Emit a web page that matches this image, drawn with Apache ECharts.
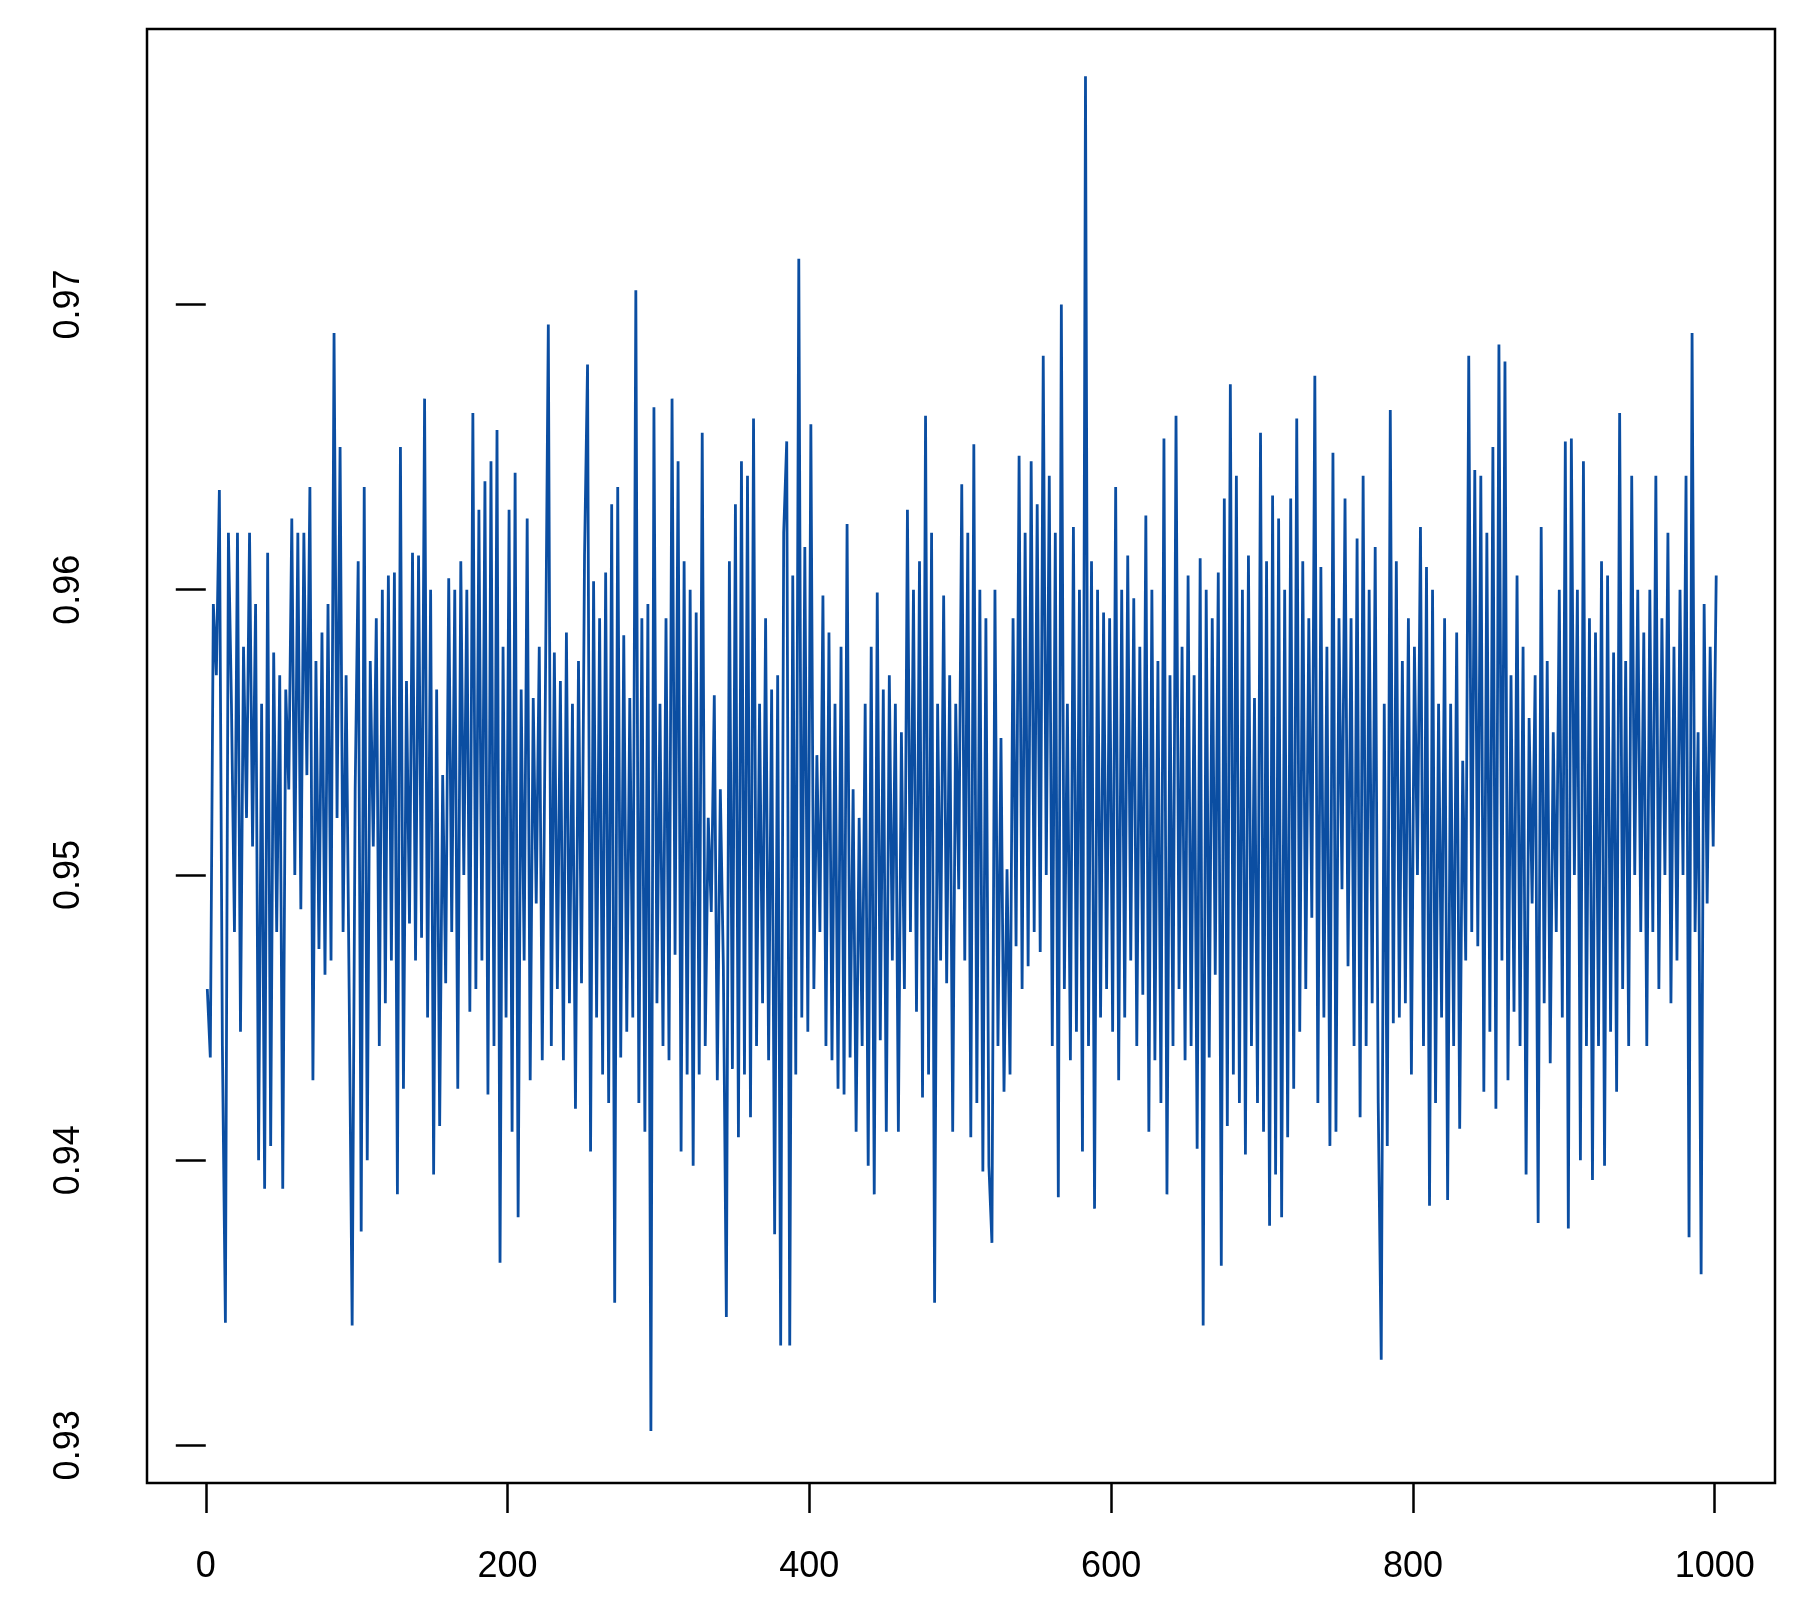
<!DOCTYPE html>
<html><head><meta charset="utf-8">
<script src="https://cdn.jsdelivr.net/npm/echarts@6/dist/echarts.min.js"></script>
<style>html,body{margin:0;padding:0;background:#fff}#c{width:1794px;height:1610px}</style>
</head><body><div id="c"></div>
<script>
const xTicks=[0,200,400,600,800,1000];
const yTicks=[0.93,0.94,0.95,0.96,0.97];
// values at x = 1,3,5,...,999
const values=[
0.946,0.9436,0.9595,0.9570,0.9635,0.9440,0.9343,0.9620,0.9560,0.9480,0.9620,0.9445,0.9580,0.9520,0.9620,0.9510,0.9595,0.9400,0.9560,0.9390,0.9613,0.9405,0.9578,0.9480,0.9570,
0.9390,0.9565,0.9530,0.9625,0.9500,0.9620,0.9488,0.9620,0.9535,0.9636,0.9428,0.9575,0.9474,0.9585,0.9465,0.9595,0.9470,0.9690,0.9520,0.9650,0.9480,0.9570,0.9460,0.9342,0.9530,0.9610,
0.9375,0.9636,0.9400,0.9575,0.9510,0.9590,0.9440,0.9600,0.9455,0.9605,0.9470,0.9606,0.9388,0.9650,0.9425,0.9568,0.9483,0.9613,0.9470,0.9612,0.9478,0.9667,0.9450,0.9600,0.9395,
0.9565,0.9412,0.9535,0.9462,0.9604,0.9480,0.9600,0.9425,0.9610,0.9500,0.9600,0.9452,0.9662,0.9460,0.9628,0.9470,0.9638,0.9423,0.9645,0.9440,0.9656,0.9364,0.9580,0.9450,0.9628,
0.9410,0.9641,0.9380,0.9565,0.9470,0.9625,0.9428,0.9562,0.9490,0.9580,0.9435,0.9560,0.9693,0.9440,0.9578,0.9460,0.9568,0.9435,0.9585,0.9455,0.9560,0.9418,0.9575,0.9462,0.9612,
0.9679,0.9403,0.9603,0.9450,0.9590,0.9430,0.9606,0.9420,0.9630,0.9350,0.9636,0.9436,0.9584,0.9445,0.9562,0.9450,0.9705,0.9420,0.9590,0.9410,0.9595,0.9305,0.9664,0.9455,0.9560,
0.9440,0.9590,0.9435,0.9667,0.9472,0.9645,0.9403,0.9610,0.9430,0.9600,0.9398,0.9592,0.9430,0.9655,0.9440,0.9520,0.9487,0.9563,0.9428,0.9530,0.9468,0.9345,0.9610,0.9432,0.9630,
0.9408,0.9645,0.9430,0.9640,0.9415,0.9660,0.9440,0.9560,0.9455,0.9590,0.9435,0.9565,0.9374,0.9570,0.9335,0.9620,0.9652,0.9335,0.9605,0.9430,0.9716,0.9450,0.9615,0.9445,0.9658,
0.9460,0.9542,0.9480,0.9598,0.9440,0.9585,0.9435,0.9560,0.9425,0.9580,0.9423,0.9623,0.9436,0.9530,0.9410,0.9520,0.9440,0.9560,0.9398,0.9580,0.9388,0.9599,0.9442,0.9565,0.9410,
0.9570,0.9470,0.9560,0.9410,0.9550,0.9460,0.9628,0.9480,0.9600,0.9452,0.9610,0.9422,0.9661,0.9430,0.9620,0.9350,0.9560,0.9470,0.9598,0.9462,0.9570,0.9410,0.9560,0.9495,0.9637,
0.9470,0.9620,0.9408,0.9651,0.9420,0.9600,0.9396,0.9590,0.9398,0.9371,0.9600,0.9440,0.9548,0.9424,0.9502,0.9430,0.9590,0.9475,0.9647,0.9460,0.9620,0.9468,0.9645,0.9480,0.9630,
0.9473,0.9682,0.9500,0.9640,0.9440,0.9620,0.9387,0.9700,0.9460,0.9560,0.9435,0.9622,0.9445,0.9600,0.9403,0.9780,0.9440,0.9610,0.9383,0.9600,0.9450,0.9592,0.9460,0.9590,0.9445,
0.9636,0.9428,0.9600,0.9450,0.9612,0.9470,0.9597,0.9440,0.9580,0.9458,0.9626,0.9410,0.9600,0.9435,0.9575,0.9420,0.9653,0.9388,0.9570,0.9440,0.9661,0.9460,0.9580,0.9435,0.9605,
0.9440,0.9570,0.9404,0.9611,0.9342,0.9600,0.9436,0.9590,0.9465,0.9606,0.9363,0.9632,0.9412,0.9672,0.9430,0.9640,0.9420,0.9600,0.9402,0.9612,0.9440,0.9562,0.9420,0.9655,0.9410,
0.9610,0.9377,0.9633,0.9395,0.9625,0.9380,0.9600,0.9408,0.9632,0.9425,0.9660,0.9445,0.9610,0.9460,0.9590,0.9485,0.9675,0.9420,0.9608,0.9450,0.9580,0.9405,0.9648,0.9410,0.9590,
0.9495,0.9632,0.9468,0.9590,0.9440,0.9618,0.9415,0.9640,0.9440,0.9600,0.9455,0.9615,0.9420,0.9330,0.9560,0.9405,0.9663,0.9448,0.9610,0.9450,0.9575,0.9455,0.9590,0.9430,0.9580,
0.9500,0.9622,0.9440,0.9608,0.9384,0.9600,0.9420,0.9560,0.9450,0.9590,0.9386,0.9560,0.9440,0.9585,0.9411,0.9540,0.9470,0.9682,0.9480,0.9642,0.9475,0.9640,0.9424,0.9620,0.9445,
0.9650,0.9418,0.9686,0.9470,0.9680,0.9428,0.9570,0.9452,0.9605,0.9440,0.9580,0.9395,0.9555,0.9490,0.9570,0.9378,0.9622,0.9455,0.9575,0.9434,0.9550,0.9480,0.9600,0.9450,0.9652,
0.9376,0.9653,0.9500,0.9600,0.9400,0.9645,0.9440,0.9590,0.9393,0.9585,0.9440,0.9610,0.9398,0.9605,0.9445,0.9578,0.9424,0.9662,0.9460,0.9575,0.9440,0.9640,0.9500,0.9600,0.9480,
0.9585,0.9440,0.9600,0.9480,0.9640,0.9460,0.9590,0.9500,0.9620,0.9455,0.9580,0.9470,0.9600,0.9500,0.9640,0.9373,0.9690,0.9480,0.9550,0.9360,0.9595,0.9490,0.9580,0.9510,0.9605
];
const data=values.map((y,i)=>[1+2*i,y]);
const font='"Liberation Sans", Arial, sans-serif';
const chart=echarts.init(document.getElementById('c'));
chart.setOption({
  animation:false,
  grid:{left:147,right:19,top:29,bottom:127,show:true,borderColor:'#000',borderWidth:2.5,backgroundColor:'transparent'},
  xAxis:{type:'value',min:-38.96,max:1039.96,
    axisLine:{show:false},splitLine:{show:false},
    axisTick:{show:true,length:30,lineStyle:{color:'#000',width:2.5},customValues:xTicks},
    axisLabel:{customValues:xTicks,color:'#000',fontSize:36,fontFamily:font,margin:66,
      formatter:v=>String(v)}},
  yAxis:{type:'value',min:0.92868,max:0.97966,
    axisLine:{show:false},splitLine:{show:false},
    axisTick:{show:true,length:30,lineStyle:{color:'#000',width:2.5},customValues:yTicks},
    axisLabel:{customValues:yTicks,color:'#000',fontSize:36,fontFamily:font,rotate:90,margin:60,
      formatter:v=>v.toFixed(2)}},
  series:[{type:'line',data:data,symbol:'none',lineStyle:{color:'#0B4EA2',width:2.8}}]
});
</script></body></html>
